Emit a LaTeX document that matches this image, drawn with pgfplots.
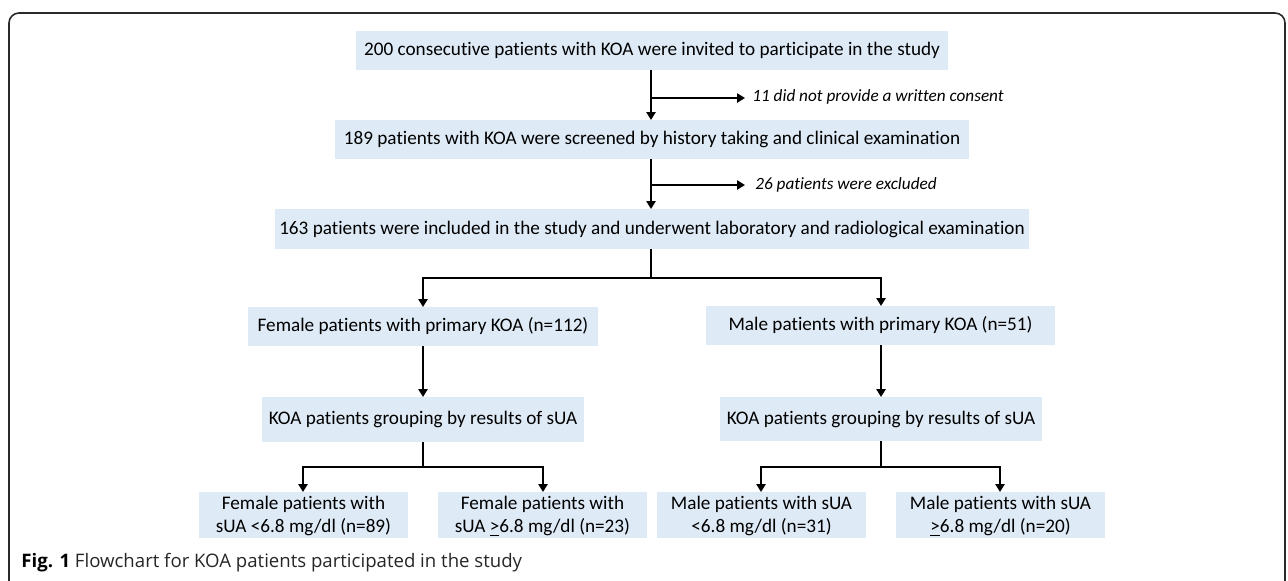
\documentclass[border=0pt]{standalone}
\usepackage{fontspec}
\setmainfont{Carlito}[Ligatures=NoCommon]
\newfontfamily\capfont{Open Sans}
\usepackage{pgfplots}
\pgfplotsset{compat=1.18}
\usetikzlibrary{arrows.meta}
\definecolor{boxblue}{HTML}{DEEAF6}
\definecolor{framegray}{HTML}{2A2A2A}
\tikzset{
  flow/.style={black, line width=1.2pt},
  arr/.style={flow, -{Triangle[length=4pt,width=4.6pt]}},
  arrs/.style={flow, {Triangle[length=4pt,width=4.6pt]}-{Triangle[length=4pt,width=4.6pt]}},
  txt/.style={font=\fontsize{9.6}{11.6}\selectfont, inner sep=0pt},
  side/.style={font=\fontsize{8.6}{10}\selectfont\itshape, inner sep=0pt, anchor=west}}
\begin{document}
\begin{tikzpicture}
\begin{axis}[hide axis, x=0.5pt, y=0.5pt, xmin=0, xmax=1288, ymin=0, ymax=580,
  y dir=reverse, scale only axis, clip=true]
\addplot[draw=none, mark=none] coordinates {(0,0) (1288,580)};
% frame
\draw[framegray, line width=0.8pt, rounded corners=5pt] (axis cs:9,640) -- (axis cs:9,13) -- (axis cs:1285,13) -- (axis cs:1285,640);
% boxes
\fill[boxblue] (axis cs:356,31) rectangle (axis cs:948,70);
\fill[boxblue] (axis cs:335,120) rectangle (axis cs:969,159);
\fill[boxblue] (axis cs:275,209) rectangle (axis cs:1029,249);
\fill[boxblue] (axis cs:248,307) rectangle (axis cs:598,346);
\fill[boxblue] (axis cs:706,306) rectangle (axis cs:1055,345);
\fill[boxblue] (axis cs:262,397) rectangle (axis cs:584,442);
\fill[boxblue] (axis cs:720,397) rectangle (axis cs:1042,441);
\fill[boxblue] (axis cs:199,492) rectangle (axis cs:408,538);
\fill[boxblue] (axis cs:438,492) rectangle (axis cs:647,538);
\fill[boxblue] (axis cs:657,492) rectangle (axis cs:866,538);
\fill[boxblue] (axis cs:896,492) rectangle (axis cs:1105,538);
% arrows
\addplot[arr, mark=none] coordinates {(651,70) (651,120)};
\addplot[arr, mark=none] coordinates {(651,98) (745,98)};
\addplot[arr, mark=none] coordinates {(651,159) (651,209)};
\addplot[arr, mark=none] coordinates {(651,185) (745,185)};
\addplot[flow, mark=none] coordinates {(651,249) (651,278)};
\addplot[arrs, mark=none] coordinates {(423,307) (423,278) (881,278) (881,306)};
\addplot[arr, mark=none] coordinates {(423,346) (423,397)};
\addplot[arr, mark=none] coordinates {(881,345) (881,397)};
\addplot[flow, mark=none] coordinates {(423,442) (423,467)};
\addplot[arrs, mark=none] coordinates {(303,492) (303,467) (543,467) (543,492)};
\addplot[flow, mark=none] coordinates {(881,441) (881,467)};
\addplot[arrs, mark=none] coordinates {(761,492) (761,467) (1000,467) (1000,492)};
% texts
\node[txt] at (axis cs:652,50.5) {200 consecutive patients with KOA were invited to participate in the study};
\node[txt] at (axis cs:652,139.5) {189 patients with KOA were screened by history taking and clinical examination};
\node[txt] at (axis cs:652,229) {163 patients were included in the study and underwent laboratory and radiological examination};
\node[txt] at (axis cs:423,326.5) {Female patients with primary KOA (n=112)};
\node[txt] at (axis cs:880.5,325.5) {Male patients with primary KOA (n=51)};
\node[txt] at (axis cs:423,419.5) {KOA patients grouping by results of sUA};
\node[txt] at (axis cs:881,419) {KOA patients grouping by results of sUA};
\node[txt, align=center] at (axis cs:303.5,516) {Female patients with\\sUA <6.8 mg/dl (n=89)};
\node[txt, align=center] at (axis cs:542.5,516) {Female patients with\\sUA \underline{>}6.8 mg/dl (n=23)};
\node[txt, align=center] at (axis cs:761.5,516) {Male patients with sUA\\<6.8 mg/dl (n=31)};
\node[txt, align=center] at (axis cs:1000.5,516) {Male patients with sUA\\\underline{>}6.8 mg/dl (n=20)};
\node[side] at (axis cs:752,97) {11 did not provide a written consent};
\node[side] at (axis cs:755,185) {26 patients were excluded};
\node[inner sep=0pt, anchor=west, font=\capfont\fontsize{9.3}{11}\selectfont] at (axis cs:21,563) {\textbf{Fig. 1} {\color{black!85}Flowchart for KOA patients participated in the study}};
\end{axis}
\end{tikzpicture}
\end{document}
